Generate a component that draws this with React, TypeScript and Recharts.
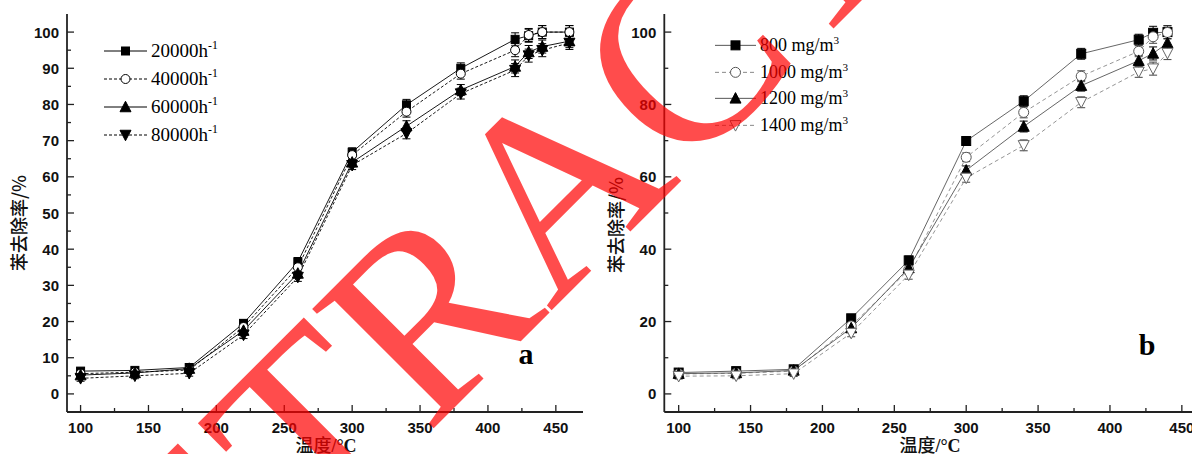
import React from 'react';
import { LineChart, Line, XAxis, YAxis, ErrorBar, Legend } from 'recharts';

// ---------- Panel a data ----------
const tempA = [100, 140, 180, 220, 260, 300, 340, 380, 420, 430, 440, 460];
const a20000 = [6.3, 6.5, 7.3, 19.5, 36.5, 66.8, 79.9, 90.0, 98.0, 99.0, 100, 100];
const a40000 = [5.6, 6.0, 6.6, 18.5, 35.0, 66.0, 78.0, 88.5, 95.0, 99.2, 100, 100];
const a60000 = [5.2, 5.8, 7.0, 17.5, 33.3, 64.0, 74.0, 84.0, 90.5, 94.5, 96.0, 97.5];
const a80000 = [4.3, 5.0, 5.7, 16.3, 32.3, 63.2, 72.0, 83.0, 89.5, 93.5, 95.0, 97.0];
const errA = [0.8, 0.8, 0.8, 1.0, 1.2, 1.2, 1.5, 1.5, 1.8, 1.8, 1.8, 1.8];
const labelsA = ['20000h', '40000h', '60000h', '80000h'];

// ---------- Panel b data ----------
const tempB = [100, 140, 180, 220, 260, 300, 340, 380, 420, 430, 440];
const b800 = [5.9, 6.3, 6.8, 20.9, 36.9, 69.9, 80.9, 94.0, 97.9, 99.8, 100];
const b1000 = [5.5, 5.7, 6.3, 18.8, 34.3, 65.4, 77.8, 87.8, 94.7, 98.7, 99.9];
const b1200 = [5.6, 5.8, 6.5, 18.2, 34.8, 61.8, 73.9, 85.2, 92.1, 94.1, 97.0];
const b1400 = [4.9, 5.0, 5.6, 16.8, 32.9, 59.7, 68.7, 80.6, 89.0, 89.9, 94.2];
const errB = [0.8, 0.8, 0.8, 1.0, 1.2, 1.2, 1.5, 1.5, 1.5, 1.8, 1.8];
const labelsB = ['800 mg/m', '1000 mg/m', '1200 mg/m', '1400 mg/m'];

// ---------- ticks ----------
const xTicks = [100, 125, 150, 175, 200, 225, 250, 275, 300, 325, 350, 375, 400, 425, 450];
const yTicksA = [0, 5, 10, 15, 20, 25, 30, 35, 40, 45, 50, 55, 60, 65, 70, 75, 80, 85, 90, 95, 100];
const yTicksB = [0, 10, 20, 30, 40, 50, 60, 70, 80, 90, 100];

const dataA = tempA.map((t, i) => ({
  t, s1: a20000[i], s2: a40000[i], s3: a60000[i], s4: a80000[i], e: errA[i],
}));
const dataB = tempB.map((t, i) => ({
  t, s1: b800[i], s2: b1000[i], s3: b1200[i], s4: b1400[i], e: errB[i],
}));

const AX = '#222';
const tickFont = { fontFamily: '"Liberation Sans", Arial, sans-serif', fontSize: 15, fontWeight: 700 as const, fill: '#111' };

const makeXTick = () => (props: any) => {
  const { x, y, payload } = props;
  const v = payload.value;
  const major = v % 50 === 0;
  return (
    <g>
      <line x1={x} x2={x} y1={y} y2={y - (major ? 7 : 4)} stroke={AX} strokeWidth={1.3} />
      {major && (
        <text x={x} y={y + 21} textAnchor="middle" {...tickFont}>{v}</text>
      )}
    </g>
  );
};
const makeYTick = (step: number) => (props: any) => {
  const { x, y, payload } = props;
  const v = payload.value;
  const major = v % step === 0;
  return (
    <g>
      <line x1={x} x2={x + (major ? 7 : 4)} y1={y} y2={y} stroke={AX} strokeWidth={1.3} />
      {major && (
        <text x={x - 8} y={y + 5.5} textAnchor="end" {...tickFont}>{v}</text>
      )}
    </g>
  );
};

// ---------- markers ----------
type MK = 'square' | 'circle' | 'up' | 'down';
const Marker = ({ kind, cx, cy, fill, stroke, s }: { kind: MK; cx: number; cy: number; fill: string; stroke: string; s: number }) => {
  if (kind === 'square') return <rect x={cx - s / 2} y={cy - s / 2} width={s} height={s} fill={fill} stroke={stroke} strokeWidth={1} />;
  if (kind === 'circle') return <circle cx={cx} cy={cy} r={s / 2} fill={fill} stroke={stroke} strokeWidth={1} />;
  const h = s * 0.95;
  if (kind === 'up') return <polygon points={`${cx},${cy - h / 2 - 1} ${cx - s / 2 - 0.5},${cy + h / 2} ${cx + s / 2 + 0.5},${cy + h / 2}`} fill={fill} stroke={stroke} strokeWidth={1} />;
  return <polygon points={`${cx},${cy + h / 2 + 1} ${cx - s / 2 - 0.5},${cy - h / 2} ${cx + s / 2 + 0.5},${cy - h / 2}`} fill={fill} stroke={stroke} strokeWidth={1} />;
};
const dotFn = (kind: MK, fill: string, stroke: string, s: number) => (p: any) => (
  <Marker key={`${kind}-${p.index}`} kind={kind} cx={p.cx} cy={p.cy} fill={fill} stroke={stroke} s={s} />
);

type SeriesStyle = { key: string; kind: MK; fill: string; stroke: string; line: string; dash?: string; s: number };
const stylesA: SeriesStyle[] = [
  { key: 's1', kind: 'square', fill: '#000', stroke: '#000', line: '#000', s: 8 },
  { key: 's2', kind: 'circle', fill: '#fff', stroke: '#000', line: '#000', dash: '3 2', s: 9 },
  { key: 's3', kind: 'up', fill: '#000', stroke: '#000', line: '#000', s: 10 },
  { key: 's4', kind: 'down', fill: '#000', stroke: '#000', line: '#000', dash: '3 2', s: 10 },
];
const stylesB: SeriesStyle[] = [
  { key: 's1', kind: 'square', fill: '#000', stroke: '#000', line: '#555', s: 9 },
  { key: 's2', kind: 'circle', fill: '#fff', stroke: '#555', line: '#888', dash: '4 3', s: 10 },
  { key: 's3', kind: 'up', fill: '#000', stroke: '#000', line: '#555', s: 10 },
  { key: 's4', kind: 'down', fill: '#fff', stroke: '#666', line: '#888', dash: '4 3', s: 10 },
];

const serif = '"Liberation Serif", "Times New Roman", serif';

const LegendBox = ({ styles, labels, sup, font, rowH, lineW }: { styles: SeriesStyle[]; labels: string[]; sup: string; font: number; rowH: number; lineW: number }) => (
  <div style={{ fontFamily: serif, fontSize: font, color: '#000', lineHeight: `${rowH}px` }}>
    {styles.map((st, i) => (
      <div key={st.key} style={{ height: rowH, display: 'flex', alignItems: 'center', whiteSpace: 'nowrap' }}>
        <svg width={lineW + 4} height={rowH} style={{ display: 'block' }}>
          <line x1={0} x2={lineW} y1={rowH / 2} y2={rowH / 2} stroke={st.line} strokeWidth={1} strokeDasharray={st.dash} />
          <Marker kind={st.kind} cx={lineW / 2} cy={rowH / 2} fill={st.fill} stroke={st.stroke} s={st.s} />
        </svg>
        <span>
          {labels[i]}
          <span style={{ fontSize: font * 0.62, verticalAlign: 'top', position: 'relative', top: -5 }}>{sup}</span>
        </span>
      </div>
    ))}
  </div>
);

const Panel = ({ data, styles, yTicks, yStep, marginLeft, marginRight, width, legend }: any) => (
  <LineChart width={width} height={454} data={data} margin={{ top: 14, right: marginRight, bottom: 12, left: marginLeft }}>
    <XAxis dataKey="t" type="number" domain={[90, 470]} ticks={xTicks} interval={0} allowDataOverflow
      axisLine={{ stroke: AX, strokeWidth: 1.8 }} tickLine={false} tickSize={0} tickMargin={0} height={30} tick={makeXTick()} />
    <XAxis xAxisId="top" dataKey="t" type="number" domain={[90, 470]} orientation="top" height={0}
      axisLine={{ stroke: '#333', strokeWidth: 2 }} tick={false} tickLine={false} />
    <YAxis type="number" domain={[-5, 105]} ticks={yTicks} interval={0} allowDataOverflow width={40}
      axisLine={{ stroke: AX, strokeWidth: 1.8 }} tickLine={false} tickSize={0} tickMargin={0} tick={makeYTick(yStep)} />
    <YAxis yAxisId="right" type="number" domain={[-5, 105]} orientation="right" width={0}
      axisLine={{ stroke: AX, strokeWidth: 1.8 }} tick={false} tickLine={false} />
    {legend}
    {styles.map((st: SeriesStyle) => (
      <Line key={st.key} dataKey={st.key} type="linear" stroke={st.line} strokeWidth={0.9}
        strokeDasharray={st.dash} isAnimationActive={false} dot={dotFn(st.kind, st.fill, st.stroke, st.s)} activeDot={false}>
        <ErrorBar dataKey="e" width={4} stroke={st.stroke === '#000' ? '#000' : '#444'} strokeWidth={1} direction="y" />
      </Line>
    ))}
  </LineChart>
);

const yTitleStyle = { fontFamily: '"Noto Sans CJK SC", sans-serif', fontSize: 18, fontWeight: 500 as const, fill: '#111' };

export default function App() {
  return (
    <div style={{ position: 'absolute', left: 0, top: 0, width: 1192, height: 454, overflow: 'hidden', background: '#fff' }}>
      <div style={{ position: 'absolute', left: 0, top: 0 }}>
        <Panel data={dataA} styles={stylesA} yTicks={yTicksA} yStep={10} marginLeft={27} marginRight={17} width={600}
          legend={
            <Legend layout="vertical" align="center" verticalAlign="middle"
              wrapperStyle={{ position: 'absolute', left: 104, top: 37, width: 200 }}
              content={() => <LegendBox styles={stylesA} labels={labelsA} sup="-1" font={19} rowH={28} lineW={43} />} />
          } />
      </div>
      <div style={{ position: 'absolute', left: 600, top: 0 }}>
        <Panel data={dataB} styles={stylesB} yTicks={yTicksB} yStep={20} marginLeft={24.3} marginRight={29.4} width={640}
          legend={
            <Legend layout="vertical" align="center" verticalAlign="middle"
              wrapperStyle={{ position: 'absolute', left: 115, top: 32, width: 240 }}
              content={() => <LegendBox styles={stylesB} labels={labelsB} sup="3" font={18} rowH={26.7} lineW={41} />} />
          } />
      </div>
      <svg width={1192} height={454} style={{ position: 'absolute', left: 0, top: 0, pointerEvents: 'none' }}>
        <text transform="translate(26 223) rotate(-90)" textAnchor="middle" {...yTitleStyle}>苯去除率/%</text>
        <text transform="translate(623 225) rotate(-90)" textAnchor="middle" {...yTitleStyle}>苯去除率/%</text>
        <text x={326} y={452} textAnchor="middle" {...yTitleStyle}>温度<tspan fontFamily={serif} fontWeight={700}>/°C</tspan></text>
        <text x={930} y={452} textAnchor="middle" {...yTitleStyle}>温度<tspan fontFamily={serif} fontWeight={700}>/°C</tspan></text>
        <text x={526} y={364} textAnchor="middle" fontFamily={serif} fontWeight={700} fontSize={30}>a</text>
        <text x={1147} y={355} textAnchor="middle" fontFamily={serif} fontWeight={700} fontSize={30}>b</text>
        <text x={80} y={782} transform="rotate(-45 80 782)" fontFamily={serif} fontSize={260} fill="#ff0000" fillOpacity={0.7}>RETRACTED</text>
      </svg>
    </div>
  );
}
